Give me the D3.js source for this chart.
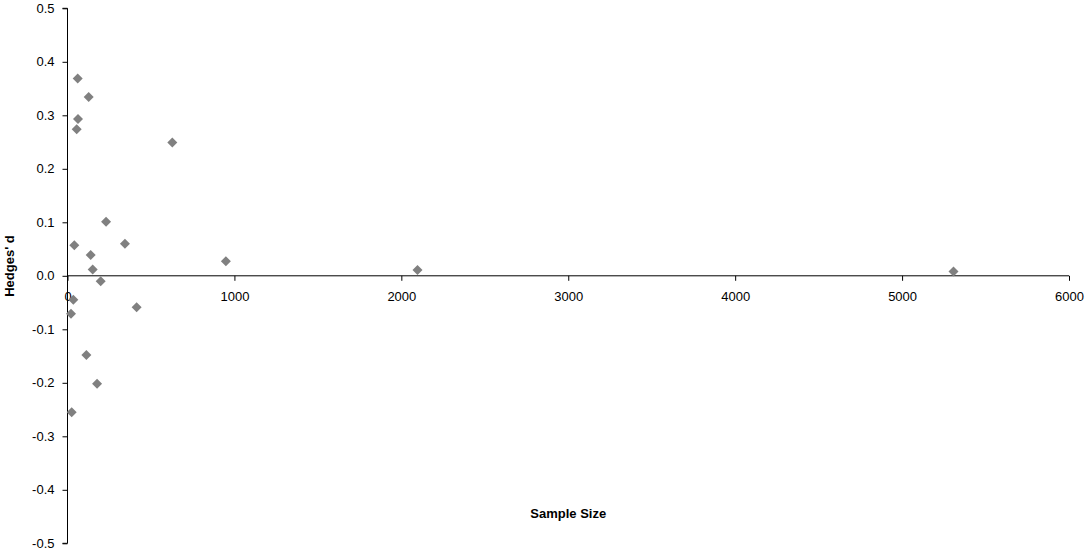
<!DOCTYPE html>
<html>
<head>
<meta charset="utf-8">
<script src="https://cdn.jsdelivr.net/npm/d3@7"></script>
<style>
  html, body { margin: 0; padding: 0; background: #fff; }
  text { font-family: Arial, "Liberation Sans", sans-serif; }
</style>
</head>
<body>
<svg id="chart" width="1088" height="555"></svg>
<script>
const sampleSize = [61, 127, 63, 55, 628, 231, 41, 344, 139, 151, 949, 199, 35, 21, 414, 113, 177, 25, 2097, 5308];
const hedgesD = [0.369, 0.334, 0.293, 0.274, 0.249, 0.101, 0.057, 0.060, 0.039, 0.012, 0.027, -0.010, -0.045, -0.071, -0.059, -0.148, -0.202, -0.255, 0.011, 0.008];
const xTicks = [0, 1000, 2000, 3000, 4000, 5000, 6000];
const yTicks = [-0.5, -0.4, -0.3, -0.2, -0.1, 0.0, 0.1, 0.2, 0.3, 0.4, 0.5];
const xTitle = "Sample Size";
const yTitle = "Hedges' d";

const FONT = "Arial, 'Liberation Sans', sans-serif";
const svg = d3.select("#chart");
const x = d3.scaleLinear().domain([0, 6000]).range([67.5, 1069]);
const y = d3.scaleLinear().domain([-0.5, 0.5]).range([543.3, 8.3]);

const yFmt = d => d.toFixed(1).replace("\u2212", "-");

// Y axis
const yAxis = svg.append("g")
  .attr("transform", `translate(${x(0)},0)`)
  .call(d3.axisLeft(y).tickValues(yTicks).tickSize(5).tickPadding(8).tickFormat(yFmt));
yAxis.select(".domain").attr("stroke", "#000").attr("d", `M-5,${y(0.5)}H0V${y(-0.5)}H-5`);
yAxis.selectAll("text").attr("font-size", 13).attr("fill", "#000").attr("font-family", FONT);
yAxis.selectAll("line").attr("stroke", "#000");

// X axis at y=0
const xAxis = svg.append("g")
  .attr("transform", `translate(0,${y(0)})`)
  .call(d3.axisBottom(x).tickValues(xTicks).tickSize(5).tickPadding(11).tickFormat(d => String(d)));
xAxis.select(".domain").attr("stroke", "#000").attr("d", `M${x(0)},0H${x(6000)}`);
xAxis.selectAll("text").attr("font-size", 13).attr("fill", "#000").attr("font-family", FONT);
xAxis.selectAll("line").attr("stroke", "#000");

// Points (diamonds)
const diamond = d3.symbol().type(d3.symbolSquare).size(50);
svg.append("g").selectAll("path")
  .data(sampleSize.map((s, i) => ({s, d: hedgesD[i]})))
  .join("path")
  .attr("d", diamond)
  .attr("transform", p => `translate(${x(p.s)},${y(p.d)}) rotate(45)`)
  .attr("fill", "#808080");

// Titles
svg.append("text")
  .attr("x", (x(0) + x(6000)) / 2)
  .attr("y", 518)
  .attr("text-anchor", "middle")
  .attr("font-size", 13)
  .attr("font-weight", "bold")
  .attr("font-family", FONT)
  .text(xTitle);

svg.append("text")
  .attr("transform", `translate(14,266) rotate(-90)`)
  .attr("text-anchor", "middle")
  .attr("font-size", 13)
  .attr("font-weight", "bold")
  .attr("font-family", FONT)
  .text(yTitle);
</script>
</body>
</html>
